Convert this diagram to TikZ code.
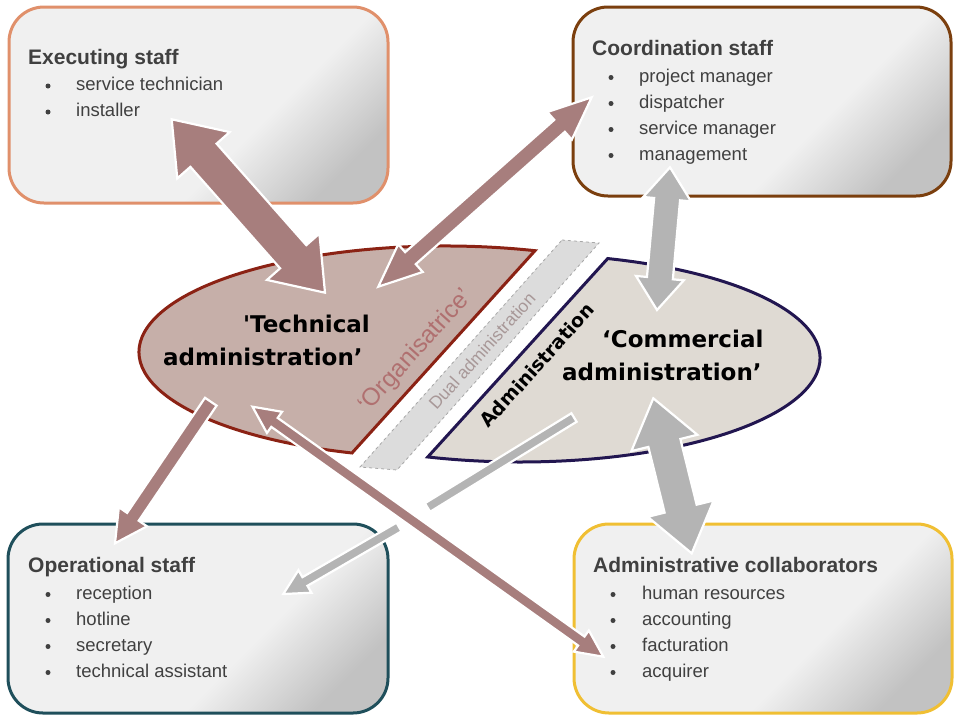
\documentclass[tikz,border=0pt]{standalone}
\usepackage{fontspec}
\setmainfont{Liberation Sans}
\newfontfamily\heavyfont{DejaVu Sans}
\usetikzlibrary{calc}
\definecolor{boxlight}{HTML}{F0F0F0}
\definecolor{boxdark}{HTML}{C2C2C2}
\definecolor{txt}{HTML}{404040}
\definecolor{exborder}{HTML}{E0906B}
\definecolor{coborder}{HTML}{7B3F0E}
\definecolor{opborder}{HTML}{1F4F5B}
\definecolor{adborder}{HTML}{F0BF33}
\definecolor{techfill}{HTML}{C6AFA9}
\definecolor{techline}{HTML}{8B2214}
\definecolor{commfill}{HTML}{DFDAD3}
\definecolor{commline}{HTML}{221650}
\definecolor{bandfill}{HTML}{DCDCDC}
\definecolor{bandline}{HTML}{A8A8A8}
\definecolor{orgtxt}{HTML}{B07070}
\definecolor{dualtxt}{HTML}{A89898}
\definecolor{arrbrown}{HTML}{A77E7D}
\definecolor{arrgray}{HTML}{B4B4B4}
\pgfdeclareverticalshading{boxshade}{100bp}{color(0bp)=(boxdark); color(24bp)=(boxdark); color(40bp)=(boxlight); color(100bp)=(boxlight)}
\newcommand\BlockDouble[6]{%
  \coordinate (bdP) at ($(#2)!#5!(#3)$);
  \coordinate (bdQ) at ($(#3)!#5!(#2)$);
  \path[#1] (#2) -- ($(bdP)!#6!90:(#3)$) -- ($(bdP)!#4!90:(#3)$) -- ($(bdQ)!#4!-90:(#2)$) -- ($(bdQ)!#6!-90:(#2)$) -- (#3) -- ($(bdQ)!#6!90:(#2)$) -- ($(bdQ)!#4!90:(#2)$) -- ($(bdP)!#4!-90:(#3)$) -- ($(bdP)!#6!-90:(#3)$) -- cycle;
}
\newcommand\BlockSingle[6]{%
  \coordinate (bsQ) at ($(#3)!#5!(#2)$);
  \path[#1] ($(#2)!#4!90:(#3)$) -- ($(bsQ)!#4!-90:(#2)$) -- ($(bsQ)!#6!-90:(#2)$) -- (#3) -- ($(bsQ)!#6!90:(#2)$) -- ($(bsQ)!#4!90:(#2)$) -- ($(#2)!#4!-90:(#3)$) -- cycle;
}
\newcommand\BlockBar[4]{%
  \path[#1] ($(#2)!#4!90:(#3)$) -- ($(#3)!#4!-90:(#2)$) -- ($(#3)!#4!90:(#2)$) -- ($(#2)!#4!-90:(#3)$) -- cycle;
}
\tikzset{
  staffbox/.style={shade, shading=boxshade, shading angle=45, line width=3pt, rounded corners=35pt},
  boxtitle/.style={anchor=base west, font=\bfseries\fontsize{21}{25}\selectfont, text=txt, inner sep=0pt},
  boxitem/.style={anchor=base west, font=\fontsize{18.5}{22}\selectfont, text=txt, inner sep=0pt},
  bulletdot/.style={circle, fill=txt, inner sep=0pt, minimum size=5pt},
  biglabel/.style={anchor=base west, font=\heavyfont\bfseries\fontsize{23}{27}\selectfont, text=black, inner sep=0pt},
  brownarrow/.style={fill=arrbrown, draw=white, line width=2.2pt, line join=miter},
  grayarrow/.style={fill=arrgray, draw=white, line width=2.2pt, line join=miter},
}
\begin{document}
\begin{tikzpicture}[x=1pt,y=-1pt]
\useasboundingbox (0,0) rectangle (960,720);
% ---------- boxes ----------
\path[staffbox, draw=exborder] (9,7) rectangle (388,203);
\path[staffbox, draw=coborder] (573,7) rectangle (951,196);
\path[staffbox, draw=opborder] (8,524) rectangle (388,713);
\path[staffbox, draw=adborder] (574,524) rectangle (952,713);
% Executing staff
\node[boxtitle] (extitle) at (28,64) {Executing staff};
\foreach \t [count=\i] in {service technician, installer}{
  \node[boxitem] (ex\i) at (76,64.5+26*\i) {\t};
  \node[bulletdot] (exb\i) at (48,60+26*\i) {};
}
% Coordination staff
\node[boxtitle] (cotitle) at (592,55) {Coordination staff};
\foreach \t [count=\i] in {project manager, dispatcher, service manager, management}{
  \node[boxitem] (co\i) at (639,56+26*\i) {\t};
  \node[bulletdot] (cob\i) at (611,51.5+26*\i) {};
}
% Operational staff
\node[boxtitle] (optitle) at (28,572) {Operational staff};
\foreach \t [count=\i] in {reception, hotline, secretary, technical assistant}{
  \node[boxitem] (op\i) at (76,573+26*\i) {\t};
  \node[bulletdot] (opb\i) at (48,568.5+26*\i) {};
}
% Administrative collaborators
\node[boxtitle] (adtitle) at (593,572) {Administrative collaborators};
\foreach \t [count=\i] in {human resources, accounting, facturation, acquirer}{
  \node[boxitem] (ad\i) at (642,573+26*\i) {\t};
  \node[bulletdot] (adb\i) at (613,568.5+26*\i) {};
}
% ---------- dual band ----------
\draw[fill=bandfill, draw=bandline, dashed, line width=0.8pt] (562,240) -- (599,243) -- (397,470) -- (360,467) -- cycle;
\node[rotate=48, font=\fontsize{17.5}{20}\selectfont, text=dualtxt] (dual) at (482,351) {Dual administration};
% ---------- technical / commercial shapes ----------
\coordinate (tc) at (445,352);
\coordinate (cc) at (520,358);
\coordinate (ttop) at ($(tc)+(-72.9:306 and 106)$);
\coordinate (ctop) at ($(cc)+(-73:300 and 104)$);
\draw[fill=techfill, draw=techline, line width=3pt, line join=miter] (ttop) arc[start angle=-72.9, end angle=-252.3, x radius=306, y radius=106] -- cycle;
\draw[fill=commfill, draw=commline, line width=3pt, line join=miter] (ctop) arc[start angle=-73, end angle=107.9, x radius=300, y radius=104] -- cycle;
\node[rotate=48, font=\fontsize{24.5}{28}\selectfont, text=orgtxt] (org) at (416,351) {‘Organisatrice’};
\node[rotate=48, font=\heavyfont\bfseries\fontsize{19}{22}\selectfont, text=black] (admin) at (537,365) {Administration};
% ---------- arrows ----------
\coordinate (a1s) at (171.7,119.3); \coordinate (a1e) at (325,292.7);
\coordinate (a2s) at (591.7,97.3);  \coordinate (a2e) at (378.3,286.7);
\coordinate (a3s) at (670,167.3);   \coordinate (a3e) at (657,310);
\coordinate (a4s) at (653.3,398.3); \coordinate (a4e) at (691.7,553.3);
\coordinate (a5s) at (210.8,401.7); \coordinate (a5e) at (115,543.3);
\coordinate (a6s) at (252.5,406.7); \coordinate (a6e) at (603.3,656.7);
\coordinate (a7s) at (574,417.5);   \coordinate (a7b) at (427.5,507.5);
\coordinate (a7c) at (399,527);     \coordinate (a7e) at (283.3,594);
\BlockDouble{brownarrow}{a1s}{a1e}{17.5pt}{48pt}{35pt}
\BlockDouble{brownarrow}{a2s}{a2e}{8pt}{43pt}{18.5pt}
\BlockDouble{grayarrow}{a3s}{a3e}{13pt}{32pt}{24pt}
\BlockDouble{grayarrow}{a4s}{a4e}{16.5pt}{46pt}{34pt}
\BlockSingle{brownarrow}{a5s}{a5e}{7pt}{32pt}{17pt}
\BlockBar{grayarrow}{a7s}{a7b}{5pt}
\BlockSingle{grayarrow}{a7c}{a7e}{5pt}{25pt}{13pt}
\BlockDouble{brownarrow}{a6s}{a6e}{5.5pt}{27pt}{13pt}
% ---------- big labels ----------
\node[biglabel] (tech1) at (243,332) {\textquotesingle Technical};
\node[biglabel] (tech2) at (163,365) {administration’};
\node[biglabel] (comm1) at (602,347) {‘Commercial};
\node[biglabel] (comm2) at (562,380) {administration’};
\end{tikzpicture}
\end{document}
